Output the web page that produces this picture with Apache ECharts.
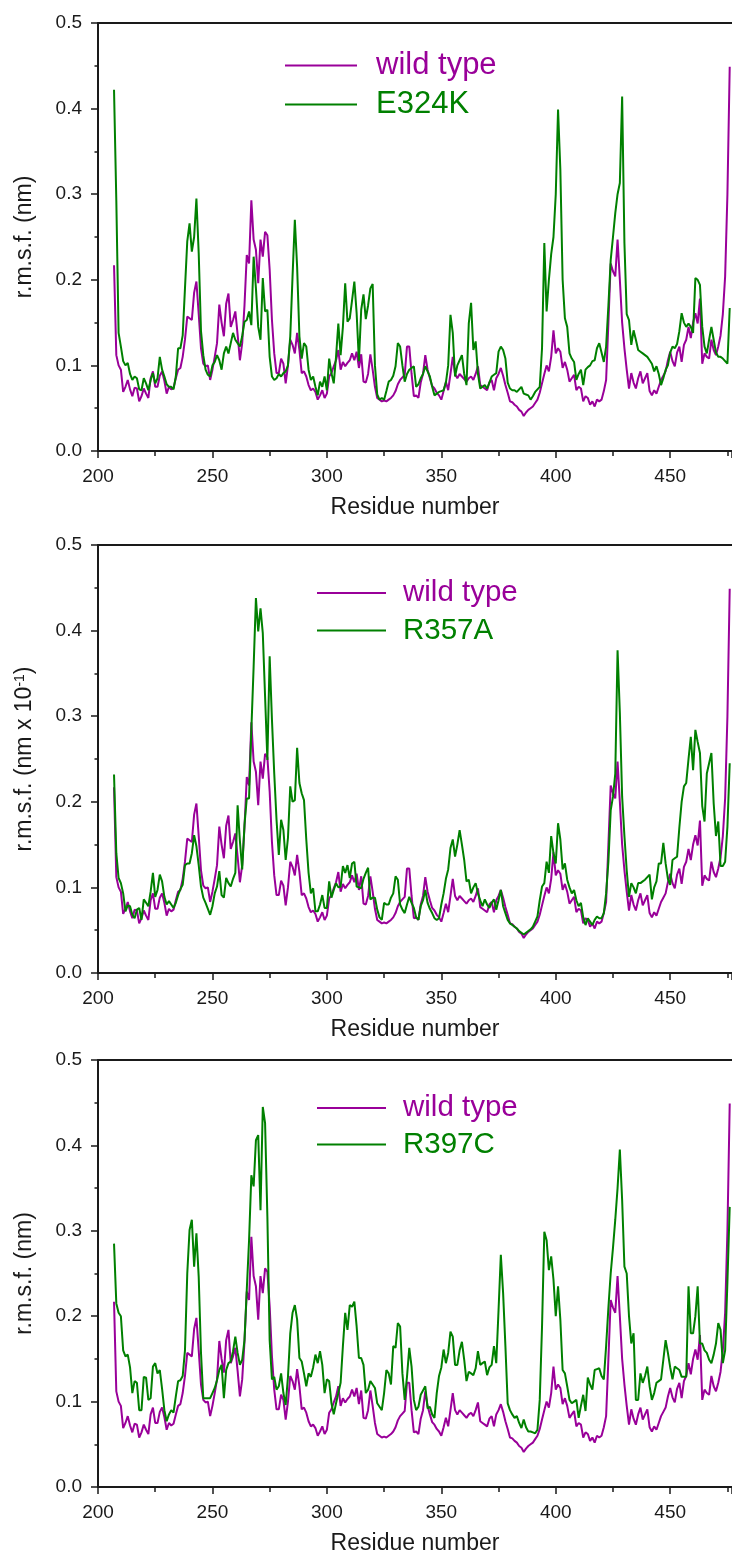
<!DOCTYPE html>
<html>
<head>
<meta charset="utf-8">
<script src="https://cdn.jsdelivr.net/npm/echarts@6/dist/echarts.min.js"></script>
<style>
html,body{margin:0;padding:0;background:#fff;}
#chart{width:732px;height:1557px;}
</style>
</head>
<body>
<div id="chart"></div>
<script>
// ---------------- DATA ----------------
const FIRST_RESIDUE = 207;           // residues 207 .. 476
const X_MIN = 200, X_MAX = 477, X_MAJOR = 50, X_MINOR = 25;
const Y_MIN = 0, Y_MAX = 0.5, Y_MAJOR = 0.1;
const X_AXIS_NAME = 'Residue number';
const SERIES_NAMES = ['wild type', 'E324K', 'R357A', 'R397C'];

const wildType = [
  0.217, 0.112, 0.100,
  0.095, 0.069, 0.075, 0.083, 0.072, 0.064, 0.074, 0.073, 0.058, 0.064,
  0.073, 0.067, 0.062, 0.085, 0.093, 0.075, 0.075, 0.088, 0.093, 0.082,
  0.067, 0.075, 0.072, 0.074, 0.085, 0.095, 0.097, 0.110, 0.130, 0.157,
  0.155, 0.153, 0.185, 0.198, 0.160, 0.120, 0.102, 0.099, 0.100, 0.083,
  0.095, 0.110, 0.126, 0.171, 0.150, 0.134, 0.172, 0.184, 0.145, 0.153,
  0.163, 0.136, 0.106, 0.126, 0.170, 0.229, 0.219, 0.293, 0.247, 0.235,
  0.196, 0.247, 0.227, 0.256, 0.252, 0.212, 0.153, 0.114, 0.091, 0.091,
  0.108, 0.102, 0.079, 0.100, 0.130, 0.124, 0.114, 0.138, 0.118, 0.091,
  0.093, 0.087, 0.077, 0.071, 0.073, 0.069, 0.060, 0.065, 0.071, 0.062,
  0.067, 0.087, 0.091, 0.099, 0.106, 0.118, 0.095, 0.104, 0.099, 0.103,
  0.106, 0.114, 0.106, 0.116, 0.097, 0.113, 0.081, 0.080, 0.090, 0.113,
  0.095, 0.075, 0.062, 0.060, 0.058, 0.059, 0.058, 0.060, 0.062, 0.065,
  0.070, 0.078, 0.083, 0.086, 0.089, 0.122, 0.122, 0.090, 0.064, 0.065,
  0.062, 0.080, 0.090, 0.112, 0.095, 0.085, 0.076, 0.073, 0.068, 0.065,
  0.060, 0.070, 0.081, 0.071, 0.090, 0.110, 0.090, 0.085, 0.090, 0.087,
  0.084, 0.081, 0.085, 0.087, 0.083, 0.090, 0.099, 0.077, 0.075, 0.073,
  0.071, 0.080, 0.083, 0.071, 0.085, 0.090, 0.097, 0.088, 0.077, 0.068,
  0.058, 0.057, 0.054, 0.052, 0.048, 0.046, 0.041, 0.045, 0.048, 0.050,
  0.052, 0.056, 0.060, 0.068, 0.079, 0.090, 0.100, 0.093, 0.110, 0.141,
  0.114, 0.120, 0.116, 0.097, 0.104, 0.095, 0.081, 0.085, 0.089, 0.071,
  0.075, 0.073, 0.058, 0.064, 0.062, 0.054, 0.058, 0.052, 0.060, 0.058,
  0.060, 0.070, 0.083, 0.150, 0.219, 0.210, 0.204, 0.247, 0.200, 0.150,
  0.120, 0.095, 0.073, 0.091, 0.080, 0.073, 0.085, 0.093, 0.079, 0.085,
  0.091, 0.070, 0.065, 0.071, 0.067, 0.075, 0.083, 0.088, 0.093, 0.106,
  0.116, 0.105, 0.099, 0.115, 0.122, 0.104, 0.124, 0.130, 0.145, 0.132,
  0.150, 0.161, 0.149, 0.178, 0.102, 0.114, 0.110, 0.108, 0.130, 0.118,
  0.112, 0.122, 0.135, 0.160, 0.204, 0.300, 0.449
];

const e324k = [
  0.422, 0.293, 0.138,
  0.122, 0.105, 0.100, 0.103, 0.090, 0.083, 0.087, 0.085, 0.072, 0.071,
  0.085, 0.079, 0.071, 0.083, 0.091, 0.079, 0.085, 0.110, 0.095, 0.087,
  0.078, 0.075, 0.075, 0.072, 0.087, 0.120, 0.120, 0.135, 0.190, 0.245,
  0.266, 0.233, 0.250, 0.295, 0.231, 0.140, 0.112, 0.095, 0.089, 0.087,
  0.100, 0.104, 0.112, 0.106, 0.095, 0.114, 0.122, 0.114, 0.126, 0.138,
  0.130, 0.126, 0.122, 0.134, 0.151, 0.153, 0.163, 0.147, 0.227, 0.190,
  0.145, 0.130, 0.202, 0.163, 0.165, 0.110, 0.087, 0.083, 0.085, 0.090,
  0.087, 0.091, 0.093, 0.100, 0.134, 0.204, 0.270, 0.215, 0.134, 0.108,
  0.126, 0.122, 0.095, 0.083, 0.087, 0.075, 0.065, 0.081, 0.075, 0.087,
  0.071, 0.108, 0.091, 0.079, 0.110, 0.149, 0.112, 0.145, 0.196, 0.151,
  0.155, 0.176, 0.198, 0.161, 0.105, 0.165, 0.183, 0.154, 0.170, 0.190,
  0.195, 0.100, 0.066, 0.060, 0.062, 0.060, 0.070, 0.081, 0.083, 0.088,
  0.099, 0.126, 0.122, 0.100, 0.081, 0.090, 0.095, 0.097, 0.099, 0.075,
  0.078, 0.085, 0.090, 0.099, 0.093, 0.087, 0.075, 0.065, 0.067, 0.069,
  0.070, 0.071, 0.080, 0.100, 0.159, 0.138, 0.087, 0.100, 0.106, 0.112,
  0.090, 0.077, 0.149, 0.173, 0.118, 0.128, 0.090, 0.073, 0.075, 0.077,
  0.073, 0.080, 0.087, 0.089, 0.091, 0.116, 0.122, 0.118, 0.108, 0.080,
  0.073, 0.071, 0.071, 0.069, 0.072, 0.075, 0.067, 0.066, 0.065, 0.060,
  0.064, 0.069, 0.072, 0.075, 0.120, 0.243, 0.163, 0.200, 0.230, 0.250,
  0.300, 0.399, 0.329, 0.200, 0.155, 0.145, 0.114, 0.108, 0.104, 0.083,
  0.090, 0.095, 0.077, 0.095, 0.098, 0.100, 0.105, 0.106, 0.120, 0.126,
  0.115, 0.104, 0.122, 0.170, 0.223, 0.250, 0.278, 0.300, 0.313, 0.414,
  0.243, 0.160, 0.153, 0.124, 0.141, 0.130, 0.118, 0.116, 0.114, 0.112,
  0.110, 0.106, 0.102, 0.093, 0.099, 0.090, 0.077, 0.085, 0.095, 0.100,
  0.115, 0.122, 0.120, 0.125, 0.140, 0.161, 0.150, 0.145, 0.149, 0.145,
  0.138, 0.202, 0.200, 0.194, 0.145, 0.122, 0.114, 0.130, 0.145, 0.130,
  0.115, 0.110, 0.110, 0.108, 0.105, 0.102, 0.167
];

const r357a = [
  0.232, 0.140, 0.111,
  0.105, 0.093, 0.072, 0.079, 0.078, 0.068, 0.064, 0.074, 0.076, 0.062,
  0.086, 0.082, 0.078, 0.095, 0.117, 0.089, 0.097, 0.115, 0.107, 0.089,
  0.080, 0.084, 0.080, 0.076, 0.082, 0.091, 0.098, 0.103, 0.126, 0.128,
  0.128, 0.140, 0.161, 0.148, 0.126, 0.101, 0.088, 0.082, 0.075, 0.068,
  0.078, 0.093, 0.101, 0.119, 0.091, 0.088, 0.111, 0.105, 0.101, 0.110,
  0.117, 0.196, 0.154, 0.121, 0.173, 0.204, 0.204, 0.284, 0.358, 0.438,
  0.399, 0.426, 0.397, 0.323, 0.249, 0.370, 0.296, 0.233, 0.179, 0.138,
  0.179, 0.167, 0.132, 0.158, 0.218, 0.200, 0.202, 0.263, 0.222, 0.210,
  0.202, 0.156, 0.117, 0.093, 0.099, 0.072, 0.072, 0.080, 0.091, 0.076,
  0.076, 0.107, 0.088, 0.097, 0.105, 0.100, 0.101, 0.125, 0.117, 0.126,
  0.111, 0.128, 0.130, 0.101, 0.100, 0.099, 0.110, 0.117, 0.123, 0.086,
  0.088, 0.088, 0.074, 0.065, 0.062, 0.082, 0.080, 0.080, 0.088, 0.093,
  0.113, 0.109, 0.080, 0.074, 0.070, 0.080, 0.089, 0.082, 0.076, 0.065,
  0.062, 0.078, 0.085, 0.097, 0.082, 0.075, 0.070, 0.064, 0.062, 0.064,
  0.080, 0.093, 0.110, 0.121, 0.146, 0.156, 0.136, 0.150, 0.167, 0.150,
  0.132, 0.107, 0.109, 0.093, 0.100, 0.105, 0.093, 0.085, 0.078, 0.086,
  0.080, 0.076, 0.082, 0.086, 0.074, 0.085, 0.097, 0.078, 0.070, 0.062,
  0.058, 0.056, 0.054, 0.052, 0.049, 0.047, 0.045, 0.047, 0.049, 0.051,
  0.054, 0.060, 0.066, 0.085, 0.101, 0.105, 0.130, 0.117, 0.160, 0.140,
  0.128, 0.175, 0.156, 0.121, 0.128, 0.109, 0.100, 0.093, 0.097, 0.085,
  0.078, 0.082, 0.065, 0.056, 0.064, 0.060, 0.056, 0.062, 0.066, 0.064,
  0.064, 0.070, 0.093, 0.130, 0.190, 0.206, 0.233, 0.377, 0.304, 0.206,
  0.160, 0.120, 0.089, 0.105, 0.100, 0.093, 0.105, 0.105, 0.107, 0.109,
  0.112, 0.115, 0.086, 0.100, 0.107, 0.128, 0.128, 0.152, 0.128, 0.110,
  0.103, 0.132, 0.134, 0.136, 0.170, 0.200, 0.218, 0.222, 0.250, 0.276,
  0.237, 0.284, 0.270, 0.257, 0.195, 0.177, 0.233, 0.245, 0.257, 0.198,
  0.160, 0.177, 0.125, 0.125, 0.130, 0.171, 0.245
];

const r397c = [
  0.285, 0.215, 0.204,
  0.200, 0.160, 0.153, 0.155, 0.140, 0.110, 0.124, 0.122, 0.090, 0.090,
  0.129, 0.128, 0.102, 0.104, 0.141, 0.145, 0.133, 0.137, 0.115, 0.090,
  0.077, 0.085, 0.090, 0.087, 0.106, 0.124, 0.125, 0.130, 0.160, 0.250,
  0.301, 0.313, 0.258, 0.297, 0.246, 0.157, 0.104, 0.104, 0.104, 0.104,
  0.110, 0.116, 0.125, 0.137, 0.143, 0.104, 0.137, 0.145, 0.147, 0.159,
  0.176, 0.157, 0.143, 0.149, 0.172, 0.231, 0.289, 0.365, 0.352, 0.406,
  0.412, 0.324, 0.445, 0.426, 0.317, 0.172, 0.126, 0.129, 0.114, 0.118,
  0.133, 0.110, 0.096, 0.129, 0.180, 0.204, 0.213, 0.196, 0.151, 0.147,
  0.133, 0.118, 0.133, 0.129, 0.140, 0.155, 0.145, 0.159, 0.143, 0.110,
  0.126, 0.124, 0.098, 0.085, 0.098, 0.110, 0.122, 0.165, 0.204, 0.184,
  0.213, 0.211, 0.217, 0.188, 0.151, 0.151, 0.143, 0.110, 0.114, 0.124,
  0.120, 0.116, 0.098, 0.094, 0.090, 0.110, 0.137, 0.133, 0.120, 0.165,
  0.163, 0.192, 0.188, 0.133, 0.102, 0.129, 0.163, 0.141, 0.102, 0.090,
  0.094, 0.108, 0.113, 0.118, 0.092, 0.094, 0.085, 0.081, 0.110, 0.130,
  0.140, 0.161, 0.145, 0.157, 0.182, 0.176, 0.143, 0.143, 0.160, 0.170,
  0.149, 0.124, 0.135, 0.133, 0.131, 0.139, 0.159, 0.143, 0.145, 0.147,
  0.131, 0.140, 0.143, 0.165, 0.145, 0.207, 0.272, 0.227, 0.165, 0.098,
  0.090, 0.085, 0.081, 0.083, 0.075, 0.069, 0.079, 0.070, 0.065, 0.065,
  0.064, 0.063, 0.067, 0.102, 0.188, 0.299, 0.289, 0.254, 0.270, 0.243,
  0.200, 0.235, 0.196, 0.137, 0.133, 0.118, 0.102, 0.098, 0.100, 0.102,
  0.081, 0.095, 0.108, 0.089, 0.128, 0.120, 0.114, 0.137, 0.138, 0.139,
  0.130, 0.126, 0.165, 0.210, 0.250, 0.280, 0.313, 0.350, 0.395, 0.336,
  0.258, 0.250, 0.200, 0.168, 0.180, 0.102, 0.102, 0.133, 0.122, 0.130,
  0.141, 0.118, 0.102, 0.110, 0.122, 0.124, 0.126, 0.149, 0.172, 0.157,
  0.140, 0.126, 0.141, 0.139, 0.137, 0.129, 0.129, 0.129, 0.235, 0.180,
  0.180, 0.200, 0.235, 0.168, 0.168, 0.160, 0.157, 0.149, 0.145, 0.155,
  0.168, 0.192, 0.184, 0.145, 0.160, 0.240, 0.328
];

// ---------------- STYLE / LAYOUT ----------------
const FONT = '"Liberation Sans", Arial, Helvetica, sans-serif';
const INK = '#1a1a1a';
const PURPLE = '#990099';
const GREEN = '#008000';

const panels = [
  { top: 23, height: 428, name: SERIES_NAMES[1], values: e324k,
    yName: 'r.m.s.f. (nm)',
    legend: { left: 285, top: 50, fontSize: 31, itemWidth: 72, gap: 8, pad: 14 } },
  { top: 545, height: 428, name: SERIES_NAMES[2], values: r357a,
    yName: 'r.m.s.f. (nm x 10{sup|-1})',
    legend: { left: 317, top: 578, fontSize: 29.5, itemWidth: 69, gap: 7.5, pad: 12 } },
  { top: 1060, height: 427, name: SERIES_NAMES[3], values: r397c,
    yName: 'r.m.s.f. (nm)',
    legend: { left: 317, top: 1093, fontSize: 29.5, itemWidth: 69, gap: 6.5, pad: 12 } }
];

const toPairs = arr => arr.map((v, i) => [FIRST_RESIDUE + i, v]);

const grid = [], xAxis = [], yAxis = [], series = [], legend = [];
const GRID_LEFT = 98, GRID_WIDTH = 634;

panels.forEach((p, i) => {
  // main grid + overlapping grid for minor x ticks
  grid.push({ left: GRID_LEFT, top: p.top, width: GRID_WIDTH, height: p.height, outerBoundsMode: 'none', containLabel: false });
  grid.push({ left: GRID_LEFT, top: p.top, width: GRID_WIDTH, height: p.height, outerBoundsMode: 'none', containLabel: false });
  const gMain = 2 * i, gMinor = 2 * i + 1;

  xAxis.push({
    gridIndex: gMain, type: 'value', position: 'bottom',
    min: X_MIN, max: X_MAX, interval: X_MAJOR,
    axisLine: { show: true, onZero: false, lineStyle: { color: INK, width: 2 } },
    axisTick: { show: true, length: 7, lineStyle: { color: INK, width: 1.5 } },
    axisLabel: { show: true, margin: 16, fontSize: 19, color: INK, fontFamily: FONT,
      formatter: v => (v % X_MAJOR === 0 ? String(v) : '') },
    splitLine: { show: false },
    name: X_AXIS_NAME, nameLocation: 'middle', nameGap: 45,
    nameTextStyle: { fontSize: 23, color: INK, fontFamily: FONT }
  });
  xAxis.push({
    gridIndex: gMain, type: 'value', position: 'top',
    min: X_MIN, max: X_MAX, interval: X_MAJOR,
    axisLine: { show: true, onZero: false, lineStyle: { color: INK, width: 2 } },
    axisTick: { show: false }, axisLabel: { show: false }, splitLine: { show: false }
  });
  xAxis.push({
    gridIndex: gMinor, type: 'value', position: 'bottom',
    min: X_MIN, max: X_MAX, interval: X_MINOR,
    axisLine: { show: false, onZero: false },
    axisTick: { show: true, length: 5, lineStyle: { color: INK, width: 1.5 } },
    axisLabel: { show: false }, splitLine: { show: false }
  });

  yAxis.push({
    gridIndex: gMain, type: 'value', position: 'left',
    min: Y_MIN, max: Y_MAX, interval: Y_MAJOR,
    axisLine: { show: true, onZero: false, lineStyle: { color: INK, width: 2 } },
    axisTick: { show: true, length: 7, lineStyle: { color: INK, width: 1.5 } },
    minorTick: { show: true, splitNumber: 2, length: 3.5, lineStyle: { color: INK, width: 1.5 } },
    axisLabel: { show: true, margin: 16, fontSize: 19, color: INK, fontFamily: FONT,
      formatter: v => v.toFixed(1) },
    splitLine: { show: false }, minorSplitLine: { show: false },
    name: p.yName, nameLocation: 'middle', nameGap: 62, nameRotate: 90,
    nameTextStyle: { fontSize: 23, color: INK, fontFamily: FONT,
      rich: { sup: { fontSize: 14, color: INK, fontFamily: FONT, verticalAlign: 'top' } } }
  });
  yAxis.push({
    gridIndex: gMinor, type: 'value', show: false, min: Y_MIN, max: Y_MAX
  });

  series.push({
    name: SERIES_NAMES[0], type: 'line', xAxisIndex: 3 * i, yAxisIndex: 2 * i,
    data: toPairs(wildType), symbol: 'none', showSymbol: false,
    lineStyle: { color: PURPLE, width: 2 }, itemStyle: { color: PURPLE },
    animation: false, silent: true, z: 2
  });
  series.push({
    name: p.name, type: 'line', xAxisIndex: 3 * i, yAxisIndex: 2 * i,
    data: toPairs(p.values), symbol: 'none', showSymbol: false,
    lineStyle: { color: GREEN, width: 2 }, itemStyle: { color: GREEN },
    animation: false, silent: true, z: 3
  });

  legend.push({
    orient: 'vertical', left: p.legend.left, top: p.legend.top,
    icon: 'rect', itemWidth: p.legend.itemWidth, itemHeight: 2, itemGap: p.legend.gap,
    selectedMode: false, padding: 0,
    textStyle: { fontSize: p.legend.fontSize, fontFamily: FONT, padding: [0, 0, 0, p.legend.pad] },
    data: [
      { name: SERIES_NAMES[0], textStyle: { color: PURPLE }, itemStyle: { color: PURPLE } },
      { name: p.name, textStyle: { color: GREEN }, itemStyle: { color: GREEN } }
    ]
  });
});

const chart = echarts.init(document.getElementById('chart'), null, { renderer: 'canvas' });
chart.setOption({
  backgroundColor: '#ffffff',
  animation: false,
  grid, xAxis, yAxis, series, legend
});
</script>
</body>
</html>
